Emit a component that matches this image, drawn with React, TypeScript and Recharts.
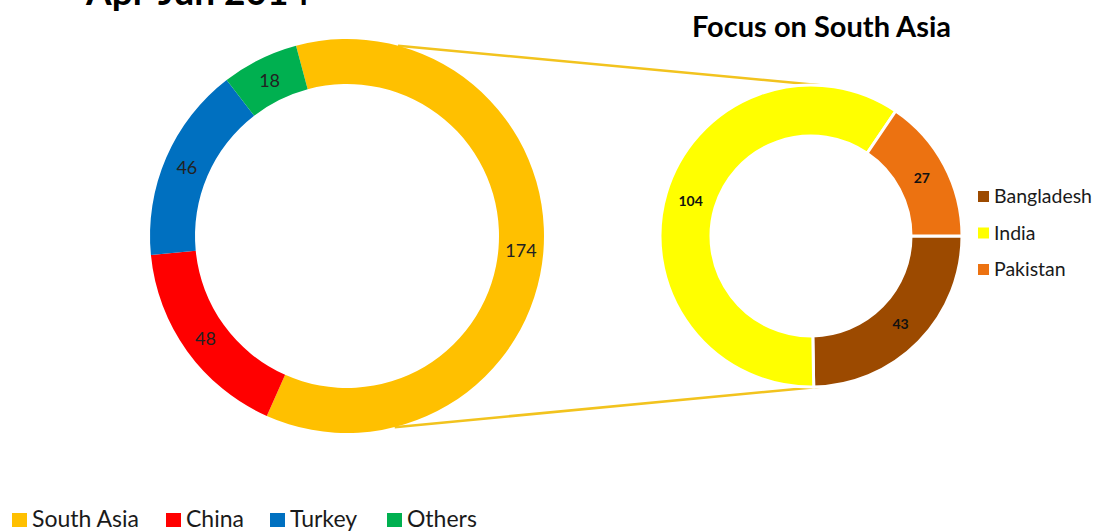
import React from "react";
import { PieChart, Pie, Cell, Customized } from "recharts";

// Apr-Jun 2014 totals by region
const regionNames = ["South Asia", "China", "Turkey", "Others"];
const regionValues = [174, 48, 46, 18];
const regionColors = ["#FFC000", "#FF0000", "#0070C0", "#00B050"];

// South Asia breakdown
const countryNames = ["Bangladesh", "India", "Pakistan"];
const countryValues = [43, 104, 27];
const countryColors = ["#9C4A00", "#FFFF00", "#EC7211"];

const regionData = regionNames.map((name, i) => ({ name, value: regionValues[i] }));
const countryData = countryNames.map((name, i) => ({ name, value: countryValues[i] }));

const W = 1101;
const H = 531;
const FONT = "Lato, 'Open Sans', sans-serif";

const LEFT = { cx: 347, cy: 236, inner: 152, outer: 197 };
const RIGHT = { cx: 811, cy: 236, inner: 100, outer: 151 };

const RAD = Math.PI / 180;

// point on a ring, angle measured clockwise from 12 o'clock
function ringPoint(c: { cx: number; cy: number }, r: number, deg: number) {
  return { x: c.cx + r * Math.sin(deg * RAD), y: c.cy - r * Math.cos(deg * RAD) };
}

function makeLabel(fontSize: number, weight: string, fill: string) {
  return (props: any) => {
    const { cx, cy, midAngle, innerRadius, outerRadius, value } = props;
    const r = (innerRadius + outerRadius) / 2;
    const x = cx + r * Math.cos(-midAngle * RAD);
    const y = cy + r * Math.sin(-midAngle * RAD);
    return (
      <text x={x} y={y} fill={fill} fontSize={fontSize} fontWeight={weight} fontFamily={FONT}
        textAnchor="middle" dominantBaseline="central">
        {value}
      </text>
    );
  };
}

function Extras() {
  const a1 = ringPoint(LEFT, LEFT.outer, 15);
  const b1 = ringPoint(RIGHT, RIGHT.outer, 3.5);
  const a2 = ringPoint(LEFT, LEFT.outer, 166);
  const b2 = ringPoint(RIGHT, RIGHT.outer, 176.5);
  return (
    <g fontFamily={FONT}>
      <text x={86} y={5} fontSize={37} fontWeight="bold" fill="#000">Apr-Jun 2014</text>
      <text x={692} y={37} fontSize={29} fontWeight="bold" fill="#000">Focus on South Asia</text>
      <line x1={a1.x} y1={a1.y} x2={b1.x} y2={b1.y} stroke="#F2C31E" strokeWidth={2.5} />
      <line x1={a2.x} y1={a2.y} x2={b2.x} y2={b2.y} stroke="#F2C31E" strokeWidth={2.5} />
      {countryNames.map((n, i) => (
        <g key={n}>
          <rect x={978} y={191 + i * 36.5} width={11} height={11} fill={countryColors[i]} />
          <text x={994} y={203 + i * 36.5} fontSize={19.5} fill="#1a1a1a">{n}</text>
        </g>
      ))}
      {regionNames.map((n, i) => {
        const xs = [12, 166, 270, 387];
        return (
          <g key={n}>
            <rect x={xs[i]} y={513} width={15} height={14} fill={regionColors[i]} />
            <text x={xs[i] + 20} y={527} fontSize={23} fill="#1a1a1a">{n}</text>
          </g>
        );
      })}
    </g>
  );
}

export default function App() {
  return (
    <div style={{ position: "absolute", left: 0, top: 0, width: W, height: H, background: "#fff" }}>
      <PieChart width={W} height={H} margin={{ top: 0, right: 0, bottom: 0, left: 0 }}>
        <Pie
          data={regionData}
          dataKey="value"
          cx={LEFT.cx}
          cy={LEFT.cy}
          innerRadius={LEFT.inner}
          outerRadius={LEFT.outer}
          startAngle={105}
          endAngle={-255}
          stroke="none"
          label={makeLabel(18, "normal", "#222")}
          labelLine={false}
          isAnimationActive={false}
        >
          {regionData.map((d, i) => (
            <Cell key={d.name} fill={regionColors[i]} />
          ))}
        </Pie>
        <Pie
          data={countryData}
          dataKey="value"
          cx={RIGHT.cx}
          cy={RIGHT.cy}
          innerRadius={RIGHT.inner}
          outerRadius={RIGHT.outer}
          startAngle={0}
          endAngle={-360}
          stroke="#fff"
          strokeWidth={3}
          label={makeLabel(14, "bold", "#111")}
          labelLine={false}
          isAnimationActive={false}
        >
          {countryData.map((d, i) => (
            <Cell key={d.name} fill={countryColors[i]} />
          ))}
        </Pie>
        <Customized component={Extras} />
      </PieChart>
    </div>
  );
}
